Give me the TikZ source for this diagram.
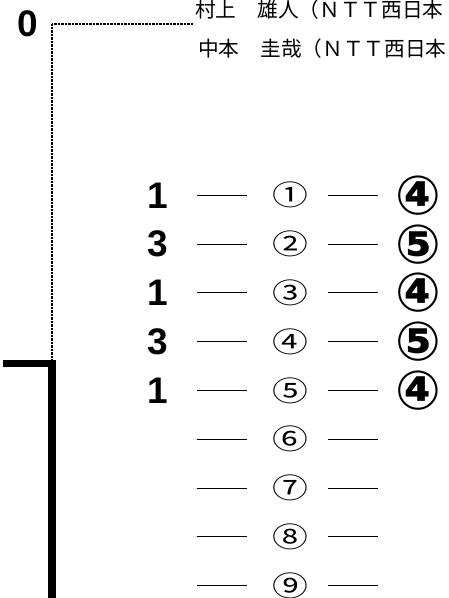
\documentclass[tikz,border=0pt]{standalone}
\usepackage{fontspec}
\usepackage{tikz}
\usetikzlibrary{calc}
\newfontfamily\numfont{Liberation Sans}
\newfontfamily\jpfont{Noto Sans CJK JP}
\newfontfamily\circfont{DejaVu Sans}
\newcommand\widened[1]{\scalebox{1.28}[1]{#1}}

\begin{document}
\begin{tikzpicture}[x=1pt,y=-1pt,
  digit/.style={font=\numfont\bfseries\fontsize{37}{37}\selectfont,inner sep=0pt},
  circ/.style={font=\jpfont\fontsize{28}{28}\selectfont,inner sep=0pt},
  bcirc/.style={font=\circfont\bfseries\fontsize{54}{54}\selectfont,inner sep=0pt},
  person/.style={font=\jpfont\fontsize{20.7}{20.7}\selectfont,anchor=base west,inner sep=0pt},
  dashline/.style={line width=1pt},
  guide/.style={line width=2pt,dash pattern=on 0.8pt off 0.6pt},
  frame/.style={line width=7.5pt}]
  \useasboundingbox (0,0) rectangle (448,598);
  \clip (0,0) rectangle (448,598);
  % header
  \node[digit] (zero) at (28,23.5) {0};
  \node[person] (p1) at (195,17.5) {村上　雄人（ＮＴＴ西日本};
  \node[person] (p2) at (198,56.5) {中本　圭哉（ＮＴＴ西日本};
  \coordinate (g0) at (193,23.5);
  \coordinate (g1) at (52,23.5);
  \coordinate (g2) at (52,360);
  \draw[guide] (g0) -- (g1) -- (g2);
  % thick frame
  \coordinate (f0) at (3,363.5);
  \coordinate (f1) at (52,363.5);
  \coordinate (f2) at (52,600);
  \draw[frame] (f0) -- (f1) -- (f2);
  % rows
  \foreach \c [count=\i] in {①,②,③,④,⑤,⑥,⑦,⑧,⑨} {
    \node[circ] (c\i) at (290,{146.5+48.8*\i}) {\widened{\c}};
    \draw[dashline] ([xshift=-93pt]c\i.center) -- ([xshift=-43pt]c\i.center);
    \draw[dashline] ([xshift=38pt]c\i.center) -- ([xshift=88pt]c\i.center);
  }
  \foreach \d [count=\i] in {1,3,1,3,1}
    \node[digit] (d\i) at (158,{146.5+48.8*\i}) {\d};
  \foreach \d [count=\i] in {④,⑤,④,⑤,④}
    \node[bcirc] (b\i) at (418,{146.5+48.8*\i}) {\d};
\end{tikzpicture}
\end{document}
